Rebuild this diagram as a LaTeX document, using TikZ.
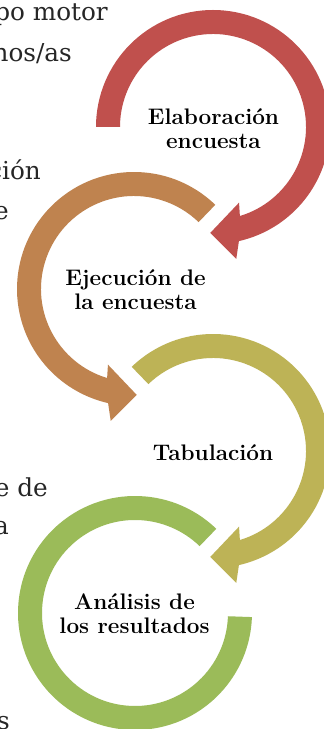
\documentclass[tikz,border=0pt]{standalone}
\usepackage{fontspec}
\newfontfamily\bodyfont{DejaVu Serif}
\usetikzlibrary{calc}
\definecolor{cred}{HTML}{C0504D}
\definecolor{corange}{HTML}{BF834F}
\definecolor{colive}{HTML}{BDB356}
\definecolor{cgreen}{HTML}{9BBB59}
\definecolor{bodygray}{HTML}{262626}
\tikzset{
  labeltext/.style={font=\fontsize{22.5}{24}\selectfont\bfseries, align=center, inner sep=0pt, text=black},
  bodytext/.style={font=\bodyfont\fontsize{24.7}{30}\selectfont, anchor=base east, inner sep=0pt, text=bodygray},
}
\begin{document}
\begin{tikzpicture}[x=1pt,y=1pt]
\useasboundingbox (0,0) rectangle (324,729);
\clip (0,0) rectangle (324,729);
\fill[white] (0,0) rectangle (324,729);
% ring centres
\coordinate (C1) at (213,602);
\coordinate (C2) at (134,440);
\coordinate (C3) at (213,278);
\coordinate (C4) at (135,116);
% background text fragments (cut by the left edge, as in the reference)
\node[bodytext] (f1) at (108,708) {po motor};
\node[bodytext] (f2) at (72,667) {nos/as};
\node[bodytext] (f3) at (41,549) {ción};
\node[bodytext] (f4) at (9,509) {e};
\node[bodytext] (f5) at (48,232) {e de};
\node[bodytext] (f6) at (9,194) {a};
\node[bodytext] (f7) at (10,-1) {s};
% red ring (clockwise)
\fill[cred] ($(C1)+(180:117)$) arc[start angle=180, end angle=-77.2, radius=117]
  -- ($(C1)+(-80:134)$) -- ($(C1)+(-91.5:106)$) -- ($(C1)+(-71:80)$)
  -- ($(C1)+(-73.2:93)$) arc[start angle=-73.2, end angle=180, radius=93] -- cycle;
% orange ring (counter-clockwise)
\fill[corange] ($(C2)+(46:117)$) arc[start angle=46, end angle=257.2, radius=117]
  -- ($(C2)+(260:134)$) -- ($(C2)+(271.5:106)$) -- ($(C2)+(251:80)$)
  -- ($(C2)+(253.2:93)$) arc[start angle=253.2, end angle=46, radius=93] -- cycle;
% olive ring (clockwise)
\fill[colive] ($(C3)+(134:117)$) arc[start angle=134, end angle=-77.2, radius=117]
  -- ($(C3)+(-80:134)$) -- ($(C3)+(-91.5:106)$) -- ($(C3)+(-71:80)$)
  -- ($(C3)+(-73.2:93)$) arc[start angle=-73.2, end angle=134, radius=93] -- cycle;
% green ring (open)
\fill[cgreen] ($(C4)+(46:117)$) arc[start angle=46, end angle=358, radius=117]
  -- ($(C4)+(358:93)$) arc[start angle=358, end angle=46, radius=93] -- cycle;
% labels
\node[labeltext] (l1) at (213.5,600) {Elaboración\\encuesta};
\node[labeltext] (l2) at (135.5,439) {Ejecución de\\la encuesta};
\node[labeltext] (l3) at (213,276) {Tabulación};
\node[labeltext] (l4) at (134.5,115) {Análisis de\\los resultados};
\end{tikzpicture}
\end{document}
